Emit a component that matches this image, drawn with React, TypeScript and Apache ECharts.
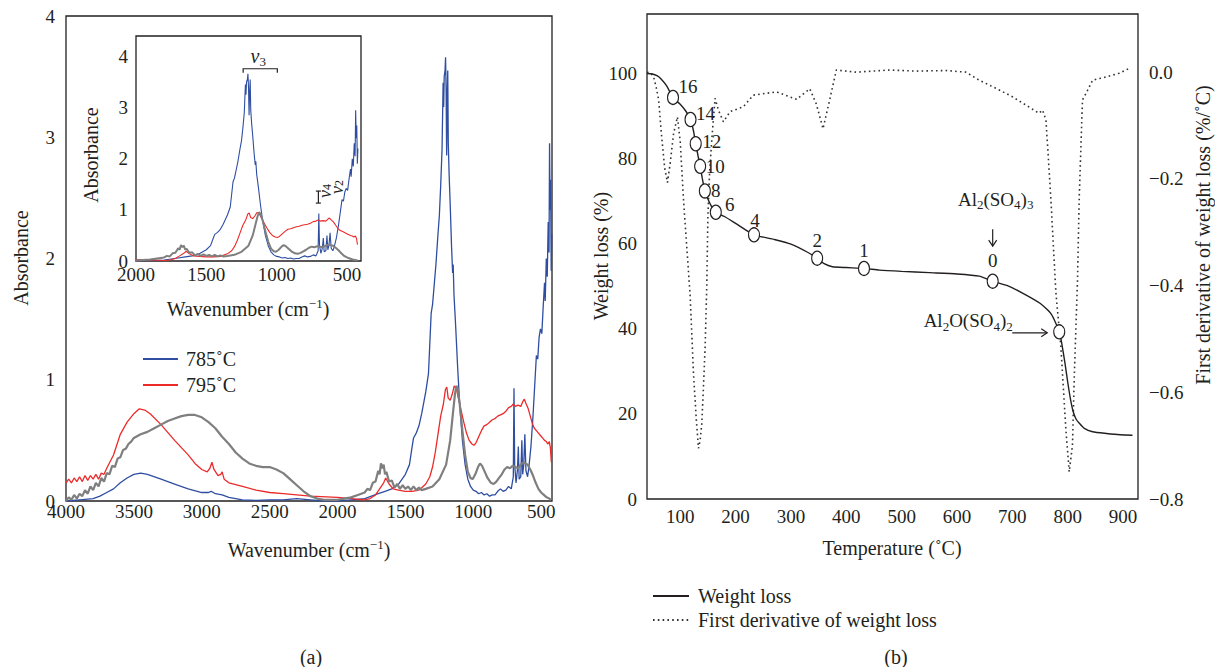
import React, { useEffect, useRef } from "react";
import * as echarts from "echarts";

const FONT = '"Liberation Serif", "Times New Roman", serif';
const INK = "#231f20";
const BLUE = "#2f4ea2";
const RED = "#ec2a2a";
const GRAY = "#7f7f7f";

// ---------- (a) FTIR spectra ----------
const blueWavenumber = [4000, 3900, 3800, 3750, 3700, 3650, 3600, 3550, 3500, 3450, 3400, 3300, 3200, 3100, 3000, 2950, 2930, 2900, 2850, 2800, 2700, 2600, 2500, 2400, 2300, 2200, 2100, 2000, 1900, 1800, 1750, 1700, 1650, 1600, 1550, 1500, 1470, 1450, 1440, 1420, 1400, 1380, 1350, 1330, 1320, 1310, 1300, 1290, 1275, 1260, 1250, 1240, 1230, 1222, 1218, 1214, 1208, 1204, 1200, 1196, 1192, 1188, 1184, 1178, 1170, 1160, 1152, 1148, 1142, 1130, 1115, 1100, 1080, 1060, 1040, 1020, 1000, 980, 960, 940, 920, 900, 880, 860, 840, 820, 800, 780, 760, 740, 720, 705, 700, 695, 685, 675, 668, 662, 650, 642, 636, 628, 620, 612, 600, 590, 575, 560, 545, 535, 525, 515, 505, 495, 485, 475, 470, 462, 455, 448, 442, 438, 434, 430, 426, 422];
const blueAbsorbance = [0.0, 0.01, 0.02, 0.04, 0.07, 0.1, 0.15, 0.19, 0.22, 0.23, 0.22, 0.18, 0.14, 0.1, 0.07, 0.07, 0.08, 0.06, 0.05, 0.03, 0.01, 0.005, 0.01, 0.01, 0.02, 0.01, 0.0, 0.0, 0.01, 0.02, 0.04, 0.06, 0.08, 0.1, 0.14, 0.22, 0.3, 0.45, 0.52, 0.56, 0.62, 0.72, 0.9, 1.05, 1.3, 1.55, 1.62, 1.75, 1.95, 2.2, 2.35, 2.6, 2.9, 3.45, 3.25, 3.5, 3.55, 3.66, 3.4, 2.85, 3.3, 3.55, 2.95, 2.7, 2.45, 2.1, 1.88, 1.95, 1.7, 1.45, 1.1, 0.8, 0.5, 0.3, 0.18, 0.12, 0.09, 0.08, 0.06, 0.07, 0.05, 0.06, 0.04, 0.05, 0.05, 0.08, 0.1, 0.08, 0.09, 0.12, 0.1, 0.2, 0.93, 0.3, 0.15, 0.25, 0.45, 0.18, 0.2, 0.5, 0.22, 0.3, 0.55, 0.25, 0.2, 0.28, 0.45, 0.7, 1.0, 1.2, 1.17, 1.35, 1.42, 1.38, 1.6, 1.8, 1.65, 2.0, 1.85, 2.3, 2.05, 2.95, 2.4, 2.65, 1.9, 2.2];

const redWavenumber = [4000, 3980, 3960, 3940, 3920, 3900, 3880, 3860, 3840, 3820, 3800, 3780, 3760, 3740, 3720, 3700, 3650, 3600, 3550, 3500, 3460, 3420, 3380, 3300, 3200, 3100, 3050, 3000, 2960, 2940, 2925, 2910, 2880, 2860, 2850, 2835, 2800, 2700, 2600, 2500, 2400, 2300, 2200, 2000, 1900, 1800, 1760, 1720, 1690, 1660, 1645, 1620, 1590, 1550, 1500, 1450, 1400, 1380, 1350, 1320, 1300, 1280, 1260, 1240, 1220, 1205, 1195, 1185, 1170, 1155, 1140, 1125, 1110, 1090, 1070, 1050, 1030, 1010, 995, 980, 960, 940, 920, 900, 880, 860, 840, 820, 800, 780, 760, 740, 720, 705, 690, 670, 650, 635, 624, 610, 595, 580, 565, 550, 535, 520, 505, 490, 475, 462, 450, 440, 432, 425];
const redAbsorbance = [0.15, 0.18, 0.15, 0.19, 0.16, 0.2, 0.16, 0.21, 0.17, 0.21, 0.18, 0.22, 0.18, 0.23, 0.22, 0.27, 0.38, 0.55, 0.65, 0.72, 0.76, 0.75, 0.72, 0.63, 0.5, 0.38, 0.31, 0.26, 0.24, 0.27, 0.32, 0.26, 0.21, 0.22, 0.24, 0.18, 0.15, 0.12, 0.09, 0.07, 0.06, 0.05, 0.04, 0.03, 0.02, 0.01, 0.02, 0.05, 0.1, 0.15, 0.19, 0.14, 0.1, 0.09, 0.08, 0.08, 0.09, 0.11, 0.14, 0.2, 0.28, 0.4, 0.55, 0.7, 0.8, 0.92, 0.94, 0.85, 0.83, 0.88, 0.95, 0.93, 0.85, 0.75, 0.65, 0.56, 0.5, 0.47, 0.46, 0.48, 0.53, 0.58, 0.62, 0.63, 0.65, 0.67, 0.68, 0.7, 0.71, 0.72, 0.74, 0.77, 0.78, 0.8, 0.78, 0.79, 0.78, 0.82, 0.84, 0.8, 0.76, 0.7, 0.64, 0.6, 0.58, 0.56, 0.54, 0.52, 0.5, 0.49, 0.47, 0.49, 0.44, 0.32];

const grayWavenumber = [4000, 3980, 3960, 3940, 3920, 3900, 3880, 3860, 3840, 3820, 3800, 3780, 3760, 3740, 3720, 3700, 3680, 3660, 3640, 3620, 3600, 3580, 3560, 3540, 3520, 3500, 3450, 3400, 3350, 3300, 3250, 3200, 3150, 3100, 3050, 3000, 2950, 2900, 2850, 2800, 2750, 2700, 2650, 2600, 2550, 2500, 2450, 2400, 2350, 2300, 2250, 2200, 2150, 2100, 2000, 1950, 1900, 1850, 1800, 1780, 1760, 1740, 1720, 1700, 1690, 1680, 1670, 1660, 1650, 1640, 1620, 1600, 1580, 1560, 1540, 1520, 1500, 1480, 1460, 1440, 1420, 1400, 1380, 1350, 1300, 1250, 1200, 1170, 1150, 1135, 1125, 1115, 1100, 1080, 1060, 1040, 1020, 1005, 985, 965, 950, 935, 915, 895, 870, 850, 830, 810, 790, 770, 750, 730, 710, 690, 670, 650, 630, 615, 600, 580, 560, 540, 520, 500, 480, 460, 440, 425];
const grayAbsorbance = [0.0, 0.03, 0.01, 0.05, 0.02, 0.06, 0.04, 0.09, 0.06, 0.12, 0.09, 0.15, 0.12, 0.19, 0.16, 0.23, 0.22, 0.29, 0.28, 0.35, 0.36, 0.42, 0.43, 0.47, 0.49, 0.52, 0.55, 0.57, 0.6, 0.63, 0.66, 0.68, 0.7, 0.71, 0.71, 0.69, 0.65, 0.6, 0.53, 0.47, 0.4, 0.35, 0.31, 0.29, 0.28, 0.28, 0.26, 0.23, 0.18, 0.13, 0.08, 0.04, 0.02, 0.01, 0.01, 0.02, 0.03, 0.05, 0.07, 0.1, 0.09, 0.15, 0.16, 0.25, 0.22, 0.31, 0.27, 0.3, 0.22, 0.24, 0.16, 0.17, 0.11, 0.14, 0.1, 0.13, 0.1, 0.12, 0.09, 0.12, 0.09, 0.11, 0.09, 0.1, 0.12, 0.18, 0.3, 0.5, 0.72, 0.88, 0.95, 0.93, 0.8, 0.58, 0.38, 0.24, 0.19, 0.18, 0.22, 0.28, 0.31, 0.29, 0.24, 0.19, 0.15, 0.14, 0.16, 0.19, 0.22, 0.26, 0.28, 0.27, 0.29, 0.28, 0.27, 0.3, 0.32, 0.31, 0.3, 0.26, 0.21, 0.15, 0.1, 0.07, 0.05, 0.03, 0.02, 0.01];

const mainWavenumberTicks = [4000, 3500, 3000, 2500, 2000, 1500, 1000, 500];
const insetWavenumberTicks = [2000, 1500, 1000, 500];
const mainAbsorbanceTicks = [0, 1, 2, 3, 4];
const insetAbsorbanceTicks = [0, 1, 2, 3, 4];

// ---------- (b) thermogravimetry ----------
const weightTemperature = [40, 50, 58, 65, 75, 87, 100, 110, 118.6, 124, 128, 132, 136, 140, 144.5, 150, 156, 164.3, 180, 200, 233.3, 270, 300, 330, 347.4, 360, 375, 400, 432, 460, 500, 550, 600, 640, 664.5, 690, 720, 750, 770, 785, 790, 795, 800, 805, 810, 815, 821, 830, 845, 870, 895, 917];
const weightLoss = [100, 99.9, 99.5, 98.8, 97.2, 94.4, 92.8, 91.2, 89.2, 86.5, 83.5, 80.8, 78.2, 75.3, 72.4, 70.5, 68.9, 67.4, 66.4, 64.8, 62.1, 61.0, 59.9, 58.0, 56.6, 55.3, 54.6, 54.4, 54.2, 53.8, 53.5, 53.2, 52.9, 52.4, 51.2, 50.2, 48.3, 46.0, 43.5, 39.3, 36.0, 32.0, 27.5, 23.5, 20.5, 18.8, 17.8, 16.6, 15.8, 15.4, 15.1, 15.0];

const derivTemperature = [40, 47, 52, 57, 61, 64, 67, 72, 77, 82, 88, 95, 100, 106, 112, 118, 124, 129, 133, 136, 139, 142, 145, 148, 150, 153, 157, 163, 169, 178, 190, 214, 232, 274, 310, 334, 346, 358, 370, 382, 418, 478, 526, 580, 616, 640, 670, 700, 725, 748, 754.6, 760.7, 765, 769.7, 778.7, 787.7, 796.7, 802.7, 808.6, 811.7, 817.7, 820.7, 826.7, 833, 845, 869, 893, 911];
const derivWeightLoss = [0.0, -0.002, -0.009, -0.03, -0.052, -0.09, -0.127, -0.18, -0.207, -0.17, -0.115, -0.084, -0.13, -0.24, -0.33, -0.42, -0.565, -0.65, -0.705, -0.69, -0.658, -0.59, -0.515, -0.4, -0.27, -0.19, -0.127, -0.049, -0.071, -0.093, -0.074, -0.065, -0.043, -0.037, -0.051, -0.031, -0.06, -0.106, -0.052, 0.004, 0.0, 0.004, 0.002, 0.003, 0.0, -0.015, -0.03, -0.046, -0.062, -0.077, -0.071, -0.09, -0.16, -0.24, -0.414, -0.515, -0.67, -0.749, -0.7, -0.577, -0.39, -0.24, -0.052, -0.04, -0.015, -0.009, -0.002, 0.007];

const markerTemperature = [87, 118.6, 128, 136, 144.5, 164.3, 233.3, 347.4, 432, 664.5, 784.7];
const markerWeight = [94.4, 89.2, 83.5, 78.2, 72.4, 67.4, 62.1, 56.6, 54.2, 51.2, 39.3];
const markerLabels = ["16", "14", "12", "10", "8", "6", "4", "2", "1", "0", ""];

const temperatureTicks = [100, 200, 300, 400, 500, 600, 700, 800, 900];
const weightTicks = [0, 20, 40, 60, 80, 100];
const derivTicks = [-0.8, -0.6, -0.4, -0.2, 0.0];

// label placement (style, in px) for the marker numbers
const markerLabelOffset: [number, number][] = [
  [15, -11], [15, -6], [16, -2], [15, 0], [11, 0], [14, -8], [1, -14], [0, -18], [0, -18], [0, -21], [0, 0],
];

const zip = (xs: number[], ys: number[]) => xs.map((x, i) => [x, ys[i]]);

const richStyles = {
  n: { fontSize: 19, fontFamily: FONT, lineHeight: 24, fill: INK },
  nl: { fontSize: 20, fontFamily: FONT, lineHeight: 24, fill: INK },
  i: { fontSize: 20, fontFamily: FONT, fontStyle: "italic", lineHeight: 24, fill: INK },
  is: { fontSize: 18, fontFamily: FONT, fontStyle: "italic", lineHeight: 16, fill: INK },
  sub: { fontSize: 13, fontFamily: FONT, lineHeight: 13, verticalAlign: "bottom", fill: INK },
  sup: { fontSize: 13, fontFamily: FONT, lineHeight: 13, verticalAlign: "top", fill: INK },
  subs: { fontSize: 12, fontFamily: FONT, lineHeight: 10, verticalAlign: "bottom", fill: INK },
};

const axisLabelBase = { fontFamily: FONT, fontSize: 19, color: INK };

function buildOption() {
  const mainLine = (name: string, xs: number[], ys: number[], color: string, w: number, xi: number, yi: number, z: number) => ({
    name,
    type: "line",
    xAxisIndex: xi,
    yAxisIndex: yi,
    data: zip(xs, ys),
    symbol: "none",
    showSymbol: false,
    z,
    lineStyle: { color, width: w },
    itemStyle: { color },
    emphasis: { disabled: true },
  });

  return {
    animation: false,
    backgroundColor: "#fff",
    textStyle: { fontFamily: FONT, color: INK },
    grid: [
      { left: 66, top: 16, width: 486, height: 485, show: true, borderColor: INK, borderWidth: 1.3, backgroundColor: "transparent" },
      { left: 136, top: 36, width: 225, height: 225, show: true, borderColor: INK, borderWidth: 1.3, backgroundColor: "#fff", z: 5 },
      { left: 647, top: 14, width: 491, height: 485, show: true, borderColor: INK, borderWidth: 1.3, backgroundColor: "transparent" },
    ],
    xAxis: [
      {
        type: "value", gridIndex: 0, min: 420, max: 4000, inverse: true,
        axisLine: { show: false }, axisTick: { show: false }, splitLine: { show: false },
        axisLabel: { ...axisLabelBase, margin: 1, customValues: mainWavenumberTicks, formatter: (v: number) => String(v) },
      },
      {
        type: "value", gridIndex: 1, min: 400, max: 2000, inverse: true,
        axisLine: { show: false }, axisTick: { show: false }, splitLine: { show: false },
        axisLabel: { ...axisLabelBase, margin: 4, customValues: insetWavenumberTicks, formatter: (v: number) => String(v) },
      },
      {
        type: "value", gridIndex: 2, min: 40, max: 927,
        axisLine: { show: false }, axisTick: { show: false }, splitLine: { show: false },
        axisLabel: { ...axisLabelBase, margin: 8, customValues: temperatureTicks, formatter: (v: number) => String(v) },
      },
    ],
    yAxis: [
      {
        type: "value", gridIndex: 0, min: 0, max: 4,
        axisLine: { show: false }, axisTick: { show: false }, splitLine: { show: false },
        axisLabel: { ...axisLabelBase, margin: 11, customValues: mainAbsorbanceTicks, formatter: (v: number) => String(v) },
      },
      {
        type: "value", gridIndex: 1, min: 0, max: 4.4,
        axisLine: { show: false }, axisTick: { show: false }, splitLine: { show: false },
        axisLabel: { ...axisLabelBase, margin: 8, customValues: insetAbsorbanceTicks, formatter: (v: number) => String(v) },
      },
      {
        type: "value", gridIndex: 2, min: 0, max: 114,
        axisLine: { show: false }, axisTick: { show: false }, splitLine: { show: false },
        axisLabel: { ...axisLabelBase, margin: 10, customValues: weightTicks, formatter: (v: number) => String(v) },
      },
      {
        type: "value", gridIndex: 2, position: "right", min: -0.8, max: 0.109,
        axisLine: { show: false }, axisTick: { show: false }, splitLine: { show: false },
        axisLabel: {
          ...axisLabelBase, margin: 11, customValues: derivTicks,
          formatter: (v: number) => v.toFixed(1).replace("-", "\u2212"),
        },
      },
    ],
    legend: [
      {
        data: ["785˚C", "795˚C"],
        orient: "vertical",
        left: 137,
        top: 344,
        itemWidth: 35,
        itemHeight: 14,
        itemGap: 6,
        selectedMode: false,
        itemStyle: { opacity: 0 },
        textStyle: { fontFamily: FONT, fontSize: 20, color: INK, padding: [0, 0, 0, 3] },
      },
      {
        data: ["Weight loss", "First derivative of weight loss"],
        orient: "vertical",
        left: 647,
        top: 581,
        itemWidth: 36,
        itemHeight: 14,
        itemGap: 4,
        selectedMode: false,
        itemStyle: { opacity: 0 },
        textStyle: { fontFamily: FONT, fontSize: 20, color: INK, padding: [0, 0, 0, 4] },
      },
    ],
    series: [
      mainLine("785˚C", blueWavenumber, blueAbsorbance, BLUE, 1.3, 0, 0, 2),
      mainLine("795˚C", redWavenumber, redAbsorbance, RED, 1.3, 0, 0, 3),
      mainLine("Reference", grayWavenumber, grayAbsorbance, GRAY, 2.2, 0, 0, 4),
      mainLine("785˚C", blueWavenumber, blueAbsorbance, BLUE, 1.1, 1, 1, 6),
      mainLine("795˚C", redWavenumber, redAbsorbance, RED, 1.1, 1, 1, 7),
      mainLine("Reference", grayWavenumber, grayAbsorbance, GRAY, 2.0, 1, 1, 8),
      {
        name: "First derivative of weight loss",
        type: "line",
        xAxisIndex: 2,
        yAxisIndex: 3,
        data: zip(derivTemperature, derivWeightLoss),
        symbol: "none",
        z: 2,
        lineStyle: { color: "#333", width: 1.6, type: [1.6, 3.2] },
        itemStyle: { color: "#333" },
        emphasis: { disabled: true },
      },
      {
        name: "Weight loss",
        type: "line",
        xAxisIndex: 2,
        yAxisIndex: 2,
        data: zip(weightTemperature, weightLoss),
        symbol: "none",
        smooth: 0.2,
        z: 3,
        lineStyle: { color: INK, width: 1.4 },
        itemStyle: { color: INK },
        emphasis: { disabled: true },
      },
      {
        name: "Heating time",
        type: "scatter",
        xAxisIndex: 2,
        yAxisIndex: 2,
        z: 4,
        symbol: "circle",
        symbolSize: [11, 14],
        itemStyle: { color: "#fff", borderColor: INK, borderWidth: 1.2, opacity: 1 },
        emphasis: { disabled: true },
        label: {
          show: true,
          position: "inside",
          fontFamily: FONT,
          fontSize: 19,
          color: INK,
          opacity: 1,
          formatter: (p: any) => p.name,
        },
        data: markerTemperature.map((t, i) => ({
          name: markerLabels[i],
          value: [t, markerWeight[i]],
          label: { offset: markerLabelOffset[i] },
        })),
      },
    ],
  };
}

function buildGraphics(chart: any) {
  const els: any[] = [];
  const text = (x: number, y: number, t: string, rotation = 0, extra: any = {}) => ({
    type: "text",
    x,
    y,
    rotation,
    z: 100,
    style: {
      text: t,
      rich: richStyles,
      textAlign: "center",
      textVerticalAlign: "middle",
      fill: INK,
      fontFamily: FONT,
      fontSize: 20,
      ...extra,
    },
  });
  const line = (x1: number, y1: number, x2: number, y2: number) => ({
    type: "line",
    z: 100,
    shape: { x1, y1, x2, y2 },
    style: { stroke: INK, lineWidth: 1.2 },
  });
  const poly = (pts: number[][]) => ({
    type: "polyline",
    z: 100,
    shape: { points: pts },
    style: { stroke: INK, lineWidth: 1.2, fill: null },
  });

  // axis titles
  els.push(text(21, 258, "{nl|Absorbance}", Math.PI / 2));
  els.push(text(309, 550, "{nl|Wavenumber (cm}{sup|\u22121}{nl|)}"));
  els.push(text(91, 155, "{nl|Absorbance}", Math.PI / 2));
  els.push(text(248, 309, "{nl|Wavenumber (cm}{sup|\u22121}{nl|)}"));
  els.push(text(601, 256, "{nl|Weight loss (%)}", Math.PI / 2));
  els.push(text(1203, 235, "{nl|First derivative of weight loss (%/˚C)}", Math.PI / 2));
  els.push(text(892, 548, "{nl|Temperature (˚C)}"));
  els.push(text(311, 657, "{nl|(a)}"));
  els.push(text(896, 657, "{nl|(b)}"));

  // nu3 bracket in inset
  const b1 = chart.convertToPixel({ xAxisIndex: 1, yAxisIndex: 1 }, [1238, 3.76]);
  const b2 = chart.convertToPixel({ xAxisIndex: 1, yAxisIndex: 1 }, [995, 3.76]);
  els.push(poly([[b1[0], b1[1] + 4], [b1[0], b1[1]], [b2[0], b2[1]], [b2[0], b2[1] + 4]]));
  els.push(text((b1[0] + b2[0]) / 2 - 2, b1[1] - 13, "{i|ν}{sub|3}"));

  // nu4 / nu2 bracket in inset
  const b3 = chart.convertToPixel({ xAxisIndex: 1, yAxisIndex: 1 }, [703, 1.25]);
  els.push(poly([[b3[0] - 2.5, b3[1] - 6], [b3[0] + 2.5, b3[1] - 6]]));
  els.push(line(b3[0], b3[1] - 6, b3[0], b3[1] + 6));
  els.push(poly([[b3[0] - 2.5, b3[1] + 6], [b3[0] + 2.5, b3[1] + 6]]));
  els.push(text(b3[0] + 7, b3[1] - 6, "{is|ν}{subs|4}", Math.PI / 2));
  els.push(text(b3[0] + 19, b3[1] - 10, "{is|ν}{subs|2}", Math.PI / 2));

  // Al2(SO4)3 arrow to the "0" marker
  const m0 = chart.convertToPixel({ xAxisIndex: 2, yAxisIndex: 2 }, [markerTemperature[9], markerWeight[9]]);
  els.push(line(m0[0], m0[1] - 52, m0[0], m0[1] - 35));
  els.push(poly([[m0[0] - 4, m0[1] - 41], [m0[0], m0[1] - 35], [m0[0] + 4, m0[1] - 41]]));
  els.push(text(m0[0] + 3, m0[1] - 82, "{n|Al}{sub|2}{n|(SO}{sub|4}{n|)}{sub|3}"));

  // Al2O(SO4)2 arrow
  const m1 = chart.convertToPixel({ xAxisIndex: 2, yAxisIndex: 2 }, [markerTemperature[10], markerWeight[10]]);
  els.push(line(m1[0] - 47, m1[1] + 1, m1[0] - 12, m1[1] + 1));
  els.push(poly([[m1[0] - 18, m1[1] - 3], [m1[0] - 12, m1[1] + 1], [m1[0] - 18, m1[1] + 5]]));
  els.push(text(m1[0] - 91, m1[1] - 11, "{n|Al}{sub|2}{n|O(SO}{sub|4}{n|)}{sub|2}"));

  return els;
}

export default function App() {
  const ref = useRef<HTMLDivElement>(null);
  useEffect(() => {
    if (!ref.current) return;
    const chart = echarts.init(ref.current, null, { renderer: "svg" });
    chart.setOption(buildOption() as any);
    chart.setOption({ graphic: buildGraphics(chart) } as any);
    return () => chart.dispose();
  }, []);
  return (
    <div
      ref={ref}
      style={{ position: "fixed", left: 0, top: 0, width: 1215, height: 667, background: "#fff" }}
    />
  );
}
